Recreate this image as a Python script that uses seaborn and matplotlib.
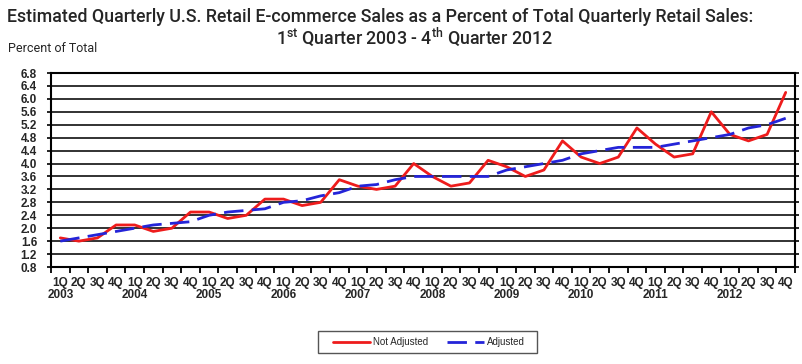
import pandas as pd
import matplotlib
matplotlib.use("Agg")
import matplotlib.pyplot as plt
import seaborn as sns
from matplotlib.patches import Rectangle
from matplotlib.ticker import FixedLocator

years = [str(y) for y in range(2003, 2013)]
quarters = ["1Q", "2Q", "3Q", "4Q"]
not_adjusted = [1.7, 1.6, 1.7, 2.1, 2.1, 1.9, 2.0, 2.5, 2.5, 2.3, 2.4, 2.9,
                2.9, 2.7, 2.8, 3.5, 3.3, 3.2, 3.3, 4.0, 3.6, 3.3, 3.4, 4.1,
                3.9, 3.6, 3.8, 4.7, 4.2, 4.0, 4.2, 5.1, 4.6, 4.2, 4.3, 5.6,
                4.9, 4.7, 4.9, 6.2]
adjusted = [1.6, 1.7, 1.8, 1.9, 2.0, 2.1, 2.15, 2.2, 2.4, 2.5, 2.55, 2.6,
            2.8, 2.85, 3.0, 3.1, 3.3, 3.35, 3.5, 3.6, 3.6, 3.6, 3.6, 3.6,
            3.8, 3.9, 4.0, 4.1, 4.3, 4.4, 4.5, 4.5, 4.5, 4.6, 4.7, 4.8,
            4.9, 5.1, 5.2, 5.4]

tick_labels = quarters * len(years)

df = pd.DataFrame({"idx": range(len(not_adjusted)),
                   "Not Adjusted": not_adjusted,
                   "Adjusted": adjusted})

sns.set_style("white")
plt.rcParams['font.family'] = ['Liberation Sans', 'DejaVu Sans']

W, H = 803, 364
fig = plt.figure(figsize=(W / 100, H / 100), dpi=100)
ax = fig.add_axes([51 / W, (H - 267) / H, 744 / W, 194 / H])

sns.lineplot(data=df, x="idx", y="Not Adjusted", color="#ee1c1c", lw=2.0,
             ax=ax, zorder=4)
sns.lineplot(data=df, x="idx", y="Adjusted", color="#2424d8", lw=2.0,
             linestyle=(0, (7, 3)), ax=ax, zorder=5)

ax.set_xlim(-0.5, 39.5)
ax.set_ylim(0.8, 6.8)
yt = [round(0.8 + 0.4 * i, 1) for i in range(16)]
ax.set_yticks(yt)
ax.set_yticklabels([f"{v:.1f}" for v in yt], fontsize=8.5, fontweight="bold")
ax.yaxis.grid(True, color="#222222", lw=1.3)
ax.set_axisbelow(True)
ax.set_xticks(range(40))
ax.set_xticklabels(tick_labels, fontsize=8.5, fontweight="bold")
ax.xaxis.set_minor_locator(FixedLocator([i - 0.5 for i in range(41)]))
ax.tick_params(axis="x", which="major", length=0, pad=7)
ax.tick_params(axis="x", which="minor", length=4, width=1.3, color="black",
               direction="out", bottom=True)
ax.tick_params(axis="y", length=3, width=1.2, color="black", direction="out",
               left=True, right=True, pad=7)
ax.set_xlabel("")
ax.set_ylabel("")
for s in ax.spines.values():
    s.set_visible(True)
    s.set_color("black")
    s.set_linewidth(1.5)

# year labels under each 1Q tick
for k, y in enumerate(years):
    ax.text(k * 4, -0.145, y, transform=ax.get_xaxis_transform(),
            ha="center", va="center", fontsize=8.5, fontweight="bold")

title_font = ['Roboto', 'Liberation Sans', 'DejaVu Sans']
fig.text(380 / W, 1 - 17 / H,
         "Estimated Quarterly U.S. Retail E-commerce Sales as a Percent of Total Quarterly Retail Sales:",
         ha="center", va="center", fontsize=12.8, fontweight="medium",
         family=title_font)
fig.text(414 / W, 1 - 37 / H,
         r"1$^{\mathregular{st}}$ Quarter 2003 - 4$^{\mathregular{th}}$ Quarter 2012",
         ha="center", va="center", fontsize=12.8, fontweight="medium",
         family=title_font)
fig.text(8 / W, 1 - 48 / H, "Percent of Total", ha="left", va="center",
         fontsize=9, family=title_font)

fig.patches.append(Rectangle((318 / W, 1 - 353 / H), 219 / W, 22 / H,
                             transform=fig.transFigure, fill=False,
                             edgecolor="#555555", lw=1.0))
handles = ax.get_lines()[:2]
fig.legend(handles, ["Not Adjusted", "Adjusted"], loc="center",
           bbox_to_anchor=(429 / W, 1 - 342 / H), ncol=2, frameon=False,
           fontsize=7, handlelength=3.8, handletextpad=0.3, columnspacing=2.0)

fig.savefig("out.png", dpi=100)
